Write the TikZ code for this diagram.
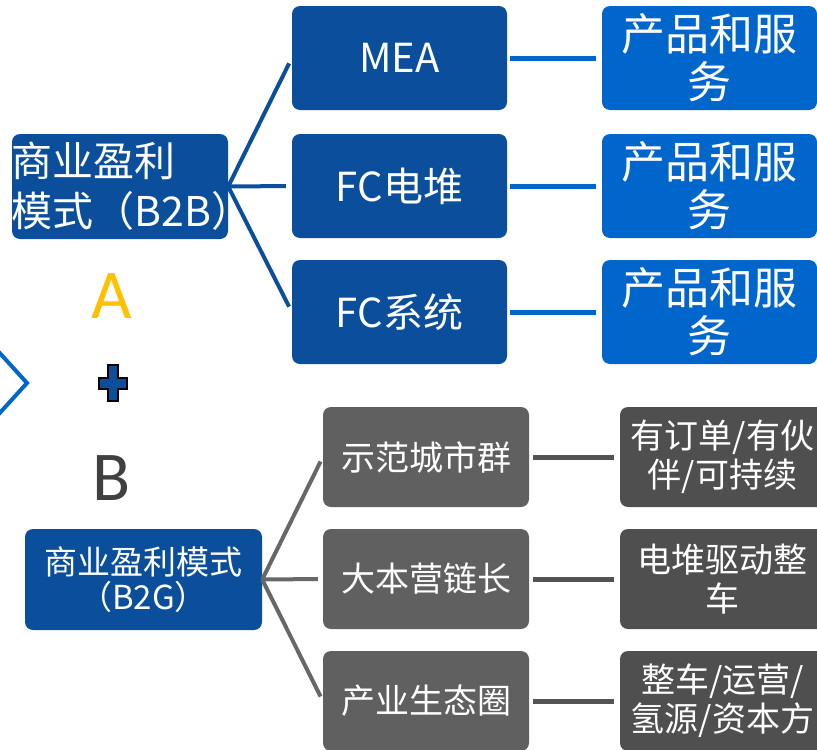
\documentclass[tikz,border=0pt]{standalone}
\usepackage{fontspec}
\setmainfont{Noto Sans CJK SC}
\newfontfamily\latinsans{Carlito}
\definecolor{darkblue}{HTML}{0B4F9C}
\definecolor{midblue}{HTML}{0066CC}
\definecolor{boxgray}{HTML}{606060}
\definecolor{boxdark}{HTML}{4F4F4F}
\definecolor{linegray}{HTML}{676767}
\definecolor{hgray}{HTML}{535353}
\definecolor{letteryellow}{HTML}{FFC000}
\definecolor{lettergray}{HTML}{404040}
\begin{document}
\begin{tikzpicture}[x=1pt,y=-1pt,
  box/.style={rectangle, rounded corners=8pt, inner sep=0pt, text=white, align=center},
  bluebox/.style={box, fill=darkblue, minimum width=215pt, minimum height=104pt},
  psbox/.style={box, fill=midblue, minimum width=215pt, minimum height=104pt,
                font=\fontsize{44}{48}\selectfont},
  graybox/.style={box, fill=boxgray, minimum width=206pt, minimum height=100pt,
                font=\fontsize{34}{38}\selectfont},
  darkbox/.style={box, fill=boxdark, minimum width=205pt, minimum height=100pt,
                font=\fontsize{34}{39}\selectfont},
  bluefork/.style={draw=darkblue, line width=4pt, shorten >=6pt},
  bluelink/.style={draw=midblue, line width=5pt, shorten <=3pt, shorten >=6pt},
  grayfork/.style={draw=linegray, line width=4pt, shorten >=5pt},
  graylink/.style={draw=hgray, line width=5pt, shorten <=4pt, shorten >=6pt},
  bigletter/.style={font=\latinsans\fontsize{70}{70}\selectfont, inner sep=0pt}
]
\useasboundingbox (0,0) rectangle (817,750);
\clip (0,0) rectangle (817,750);

% B2B part
\node[box, fill=darkblue, minimum width=216pt, minimum height=105pt,
      text width=216pt, align=left, font=\fontsize{41}{50}\selectfont]
      (b2b) at (120,186.5) {商业盈利\\模式（B2B）};
\node[bluebox, font=\fontsize{40}{44}\selectfont] (mea) at (399.5,58) {MEA};
\node[bluebox, font=\fontsize{40}{44}\selectfont] (fcs) at (399.5,186) {FC电堆};
\node[bluebox, font=\fontsize{40}{44}\selectfont] (fcsys) at (399.5,312) {FC系统};
\node[psbox] (ps1) at (709.5,58) {产品和服\\务};
\node[psbox] (ps2) at (709.5,186) {产品和服\\务};
\node[psbox] (ps3) at (709.5,312) {产品和服\\务};

\draw[bluefork] (b2b.east) -- (mea.west);
\draw[bluefork] (b2b.east) -- (fcs.west);
\draw[bluefork] (b2b.east) -- (fcsys.west);
\draw[bluelink] (mea.east) -- (ps1.west);
\draw[bluelink] (fcs.east) -- (ps2.west);
\draw[bluelink] (fcsys.east) -- (ps3.west);

% letters, plus, chevron
\node[bigletter, text=letteryellow] (la) at (112,296) {A};
\node[bigletter, text=lettergray] (lb) at (112,478) {B};
\draw[draw=black, line width=1.5pt, fill=darkblue, line join=miter]
  (108,365) -- (118,365) -- (118,378) -- (127,378) -- (127,389) -- (118,389)
  -- (118,401) -- (108,401) -- (108,389) -- (99,389) -- (99,378) -- (108,378) -- cycle;
\draw[draw=midblue, line width=4pt] (-3,350) -- (27,383) -- (-3,416);

% B2G part
\node[box, fill=darkblue, minimum width=237pt, minimum height=101pt,
      font=\fontsize{33}{35}\selectfont]
      (b2g) at (143.5,579.5) {商业盈利模式\\（B2G）};
\node[graybox] (g1) at (426,457) {示范城市群};
\node[graybox] (g2) at (426,579) {大本营链长};
\node[graybox] (g3) at (426,701) {产业生态圈};
\node[darkbox] (d1) at (722.5,457) {有订单/有伙\\伴/可持续};
\node[darkbox] (d2) at (722.5,579) {电堆驱动整\\车};
\node[darkbox] (d3) at (722.5,701) {整车/运营/\\氢源/资本方};

\draw[grayfork] (b2g.east) -- (g1.west);
\draw[grayfork] (b2g.east) -- (g2.west);
\draw[grayfork] (b2g.east) -- (g3.west);
\draw[graylink] (g1.east) -- (d1.west);
\draw[graylink] (g2.east) -- (d2.west);
\draw[graylink] (g3.east) -- (d3.west);
\end{tikzpicture}
\end{document}
